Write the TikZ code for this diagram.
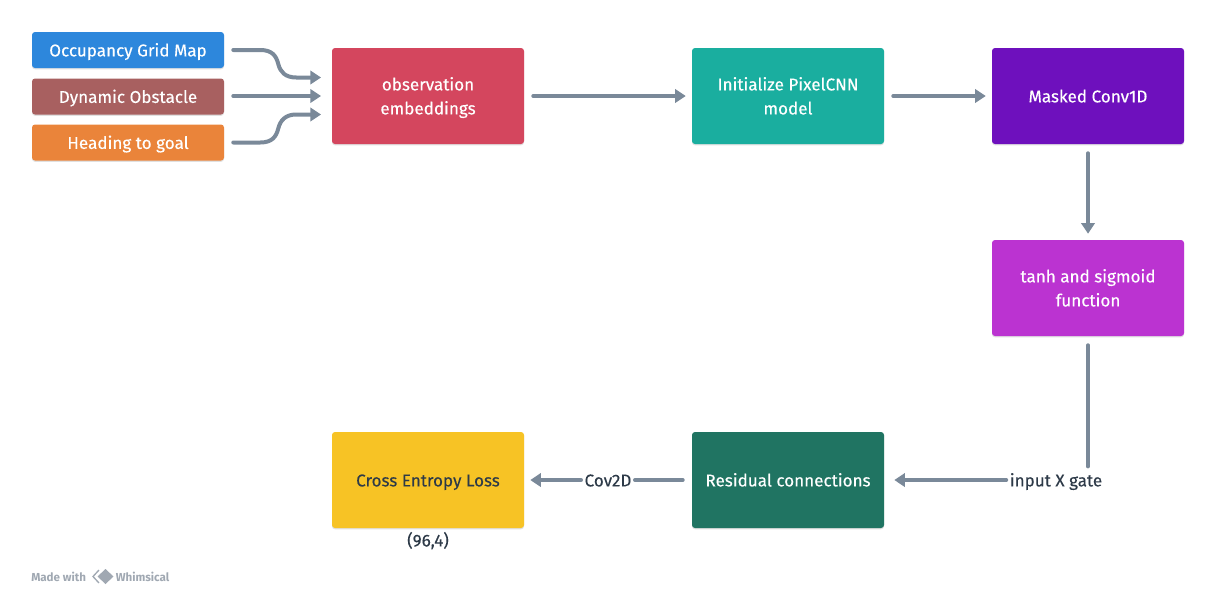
\documentclass[tikz,border=0pt]{standalone}
\usepackage{fontspec}
\setmainfont{Fira Sans}
\newfontfamily\boxfont[FakeBold=0.25]{Fira Sans}
\usetikzlibrary{arrows.meta,shadows}
\definecolor{linegray}{RGB}{122,137,153}
\definecolor{textdark}{RGB}{45,58,72}
\definecolor{whimsgray}{RGB}{160,168,178}
\definecolor{occupancy}{RGB}{45,135,220}
\definecolor{dynamic}{RGB}{168,96,96}
\definecolor{heading}{RGB}{234,132,58}
\definecolor{observation}{RGB}{212,70,94}
\definecolor{pixelcnn}{RGB}{26,174,159}
\definecolor{maskedconv}{RGB}{110,16,189}
\definecolor{tanhsigmoid}{RGB}{187,51,209}
\definecolor{residual}{RGB}{32,116,98}
\definecolor{crossentropy}{RGB}{247,195,37}
\newcommand{\boxstrut}{\rule[-4.2pt]{0pt}{18pt}}
\tikzset{
    flowbox/.style = {rectangle, rounded corners=2.25pt, inner sep=0pt, align=center,
        font=\fontsize{12.8}{18}\selectfont\boxfont, text=white,
        drop shadow={shadow xshift=0pt, shadow yshift=-1pt, opacity=.12, fill=black}},
    smallbox/.style = {flowbox, minimum width=144pt, minimum height=27pt},
    bigbox/.style = {flowbox, minimum width=144pt, minimum height=72pt},
    edgetext/.style = {inner sep=1pt, font=\fontsize{12.8}{18}\selectfont\boxfont, text=textdark},
    flowline/.style = {draw=linegray, line width=3pt, line cap=round},
    flowarrow/.style = {flowline, -{Triangle[length=8pt,width=10pt]}, shorten <=6.75pt, shorten >=4.5pt},
}
\begin{document}
\begin{tikzpicture}[x=0.75pt, y=-0.75pt]
    \useasboundingbox (0,0) rectangle (1216,600);

    \node[smallbox, fill=occupancy] (occupancy) at (128,50) {\boxstrut Occupancy Grid Map};
    \node[smallbox, fill=dynamic] (dynamic) at (128,96.5) {\boxstrut Dynamic Obstacle};
    \node[smallbox, fill=heading] (heading) at (128,142.5) {\boxstrut Heading to goal};

    \node[bigbox, fill=observation] (observation) at (428,96) {\boxstrut observation\\\boxstrut embeddings};
    \node[bigbox, fill=pixelcnn] (pixelcnn) at (788,96) {\boxstrut Initialize PixelCNN\\\boxstrut model};
    \node[bigbox, fill=maskedconv] (maskedconv) at (1088,96) {\boxstrut Masked Conv1D};
    \node[bigbox, fill=tanhsigmoid] (tanhsigmoid) at (1088,288) {\boxstrut tanh and sigmoid\\\boxstrut function};
    \node[bigbox, fill=residual] (residual) at (788,480) {\boxstrut Residual connections};
    \node[bigbox, fill=crossentropy, text=textdark] (crossentropy) at (428,480) {\boxstrut Cross Entropy Loss};

    \node[edgetext] (inputx) at (1056,480) {\boxstrut input X gate};
    \node[edgetext] (cov) at (608,480) {\boxstrut Cov2D};
    \node[edgetext] (shape) at (428,540) {\boxstrut (96,4)};

    \coordinate (obsin1) at (327,77.5);
    \coordinate (obsin2) at (327,96);
    \coordinate (obsin3) at (327,114.5);

    % inputs merging into the embeddings
    \draw[flowarrow] (occupancy.east) -- ++(36,0)
        .. controls ++(12,0) and ++(-2,-8) .. ++(18,14)
        .. controls ++(2,8) and ++(-11,0) .. ++(18,13.5) -- (obsin1);
    \draw[flowarrow] (dynamic.east |- obsin2) -- (obsin2);
    \draw[flowarrow] (heading.east) -- ++(36,0)
        .. controls ++(12,0) and ++(-2,8) .. ++(18,-14)
        .. controls ++(2,-8) and ++(-11,0) .. ++(18,-14) -- (obsin3);

    \draw[flowarrow] (observation) -- (pixelcnn);
    \draw[flowarrow] (pixelcnn) -- (maskedconv);
    \draw[flowarrow] (maskedconv) -- (tanhsigmoid);

    \draw[flowline, shorten <=6.75pt] (tanhsigmoid.south) -- (tanhsigmoid.south |- inputx.north);
    \draw[flowarrow, shorten <=1.5pt, shorten >=7.5pt] (inputx.west) -- (residual.east);
    \draw[flowline, shorten <=6.75pt, shorten >=1.5pt] (residual.west) -- (cov.east);
    \draw[flowarrow, shorten <=1.5pt] (cov.west) -- (crossentropy.east);

    % footer
    \node[inner sep=0pt, anchor=west, text=whimsgray, font=\fontsize{8.7}{10}\selectfont\bfseries] (madewith) at (31,576.5) {Made with};
    \node[inner sep=0pt, anchor=west, text=whimsgray, font=\fontsize{8.7}{10}\selectfont\bfseries] (whimsical) at (115.5,576.5) {Whimsical};
    \fill[whimsgray] (105.5,569) -- (113.5,576.5) -- (105.5,584) -- (97.5,576.5) -- cycle;
    \draw[whimsgray, line width=1pt] (99,570) -- (93,576.5) -- (99,583);
\end{tikzpicture}
\end{document}
